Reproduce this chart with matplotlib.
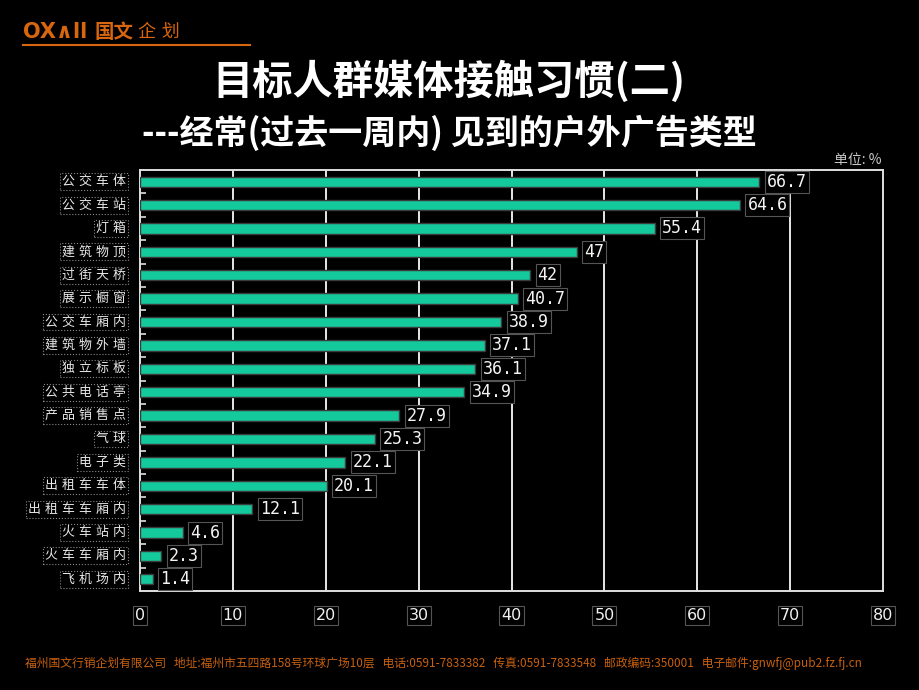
import matplotlib
matplotlib.use("Agg")
import matplotlib.pyplot as plt
import matplotlib.transforms as mtransforms

categories = ["公交车体", "公交车站", "灯箱", "建筑物顶", "过街天桥", "展示橱窗",
              "公交车厢内", "建筑物外墙", "独立标板", "公共电话亭", "产品销售点",
              "气球", "电子类", "出租车车体", "出租车车厢内", "火车站内",
              "火车车厢内", "飞机场内"]
values = [66.7, 64.6, 55.4, 47, 42, 40.7, 38.9, 37.1, 36.1, 34.9, 27.9,
          25.3, 22.1, 20.1, 12.1, 4.6, 2.3, 1.4]
value_labels = ["66.7", "64.6", "55.4", "47", "42", "40.7", "38.9", "37.1",
                "36.1", "34.9", "27.9", "25.3", "22.1", "20.1", "12.1",
                "4.6", "2.3", "1.4"]
xticks = [0, 10, 20, 30, 40, 50, 60, 70, 80]

CJK = ["Noto Sans CJK SC", "DejaVu Sans"]
CJK_SP = ["DejaVu Sans", "Noto Sans CJK SC"]
ORANGE = "#D8660E"
BAR = "#14C99B"

fig = plt.figure(figsize=(9.2, 6.9), dpi=100, facecolor="black")
W, H = 920, 690
x0, x1, y0, y1 = 140, 883, 170, 591
ax = fig.add_axes([x0 / W, 1 - y1 / H, (x1 - x0) / W, (y1 - y0) / H])
ax.set_facecolor("black")

n = len(categories)
ypos = list(range(n))
ax.barh(ypos, values, height=0.44, color=BAR, edgecolor="#3a3a3a", linewidth=1.0, zorder=3)
ax.set_ylim(n - 0.5, -0.5)
ax.set_xlim(0, 80)

for xv in xticks[1:-1]:
    ax.axvline(xv, color="#e8e8e8", lw=1.4, zorder=1)
for s in ax.spines.values():
    s.set_color("#e0e0e0")
    s.set_linewidth(1.4)

ax.set_yticks([])
ax.set_yticks([i + 0.5 for i in range(n - 1)], minor=True)
ax.tick_params(axis="y", which="minor", direction="in", length=4, color="#e0e0e0", width=1.2)
ax.set_xticks(xticks)
ax.set_xticklabels([str(v) for v in xticks])
ax.tick_params(axis="x", length=0, pad=12, labelsize=11.5, labelcolor="#f0f0f0")
for lab in ax.get_xticklabels():
    lab.set_bbox(dict(boxstyle="square,pad=0.12", fc="black", ec="#555555", lw=0.8))

trans = mtransforms.blended_transform_factory(ax.transAxes, ax.transData)
for i, (c, v, vl) in enumerate(zip(categories, values, value_labels)):
    ax.text(-0.019, i, " ".join(c), transform=trans, ha="right", va="center",
            fontsize=9.3, color="#e8e8e8", family=CJK_SP,
            bbox=dict(boxstyle="square,pad=0.15", fc="black", ec="#888888", lw=0.8, ls=":"))
    ax.text(v + 0.8, i, vl, ha="left", va="center", fontsize=12, color="#f4f4f4",
            family="DejaVu Sans Mono", zorder=4,
            bbox=dict(boxstyle="square,pad=0.12", fc="black", ec="#555555", lw=0.8))

# header logo
fig.text(23 / W, 1 - 32 / H, "OX∧ll", color=ORANGE, fontsize=15, fontweight="bold",
         family="DejaVu Sans", ha="left", va="center")
fig.text(94 / W, 1 - 32 / H, "国文", color=ORANGE, fontsize=14, fontweight="bold",
         family=CJK, ha="left", va="center")
fig.text(138 / W, 1 - 32 / H, "企 划", color=ORANGE, fontsize=13,
         family=CJK_SP, ha="left", va="center")
fig.add_artist(plt.Line2D([23 / W, 250 / W], [1 - 45 / H, 1 - 45 / H], color=ORANGE, lw=1.5))

# titles
fig.text(449 / W, 1 - 82 / H, "目标人群媒体接触习惯(二)", color="white", fontsize=29,
         fontweight="bold", family=CJK, ha="center", va="center")
fig.text(449 / W, 1 - 133 / H, "---经常(过去一周内) 见到的户外广告类型", color="white",
         fontsize=24.5, fontweight="bold", family=CJK, ha="center", va="center")
fig.text(882 / W, 1 - 160 / H, "单位: %", color="#c8c8c8", fontsize=10,
         family=CJK, ha="right", va="center")

footer = ("福州国文行销企划有限公司   地址:福州市五四路158号环球广场10层   电话:0591-7833382   "
          "传真:0591-7833548   邮政编码:350001   电子邮件:gnwfj@pub2.fz.fj.cn")
fig.text(25 / W, 1 - 663 / H, footer, color="#C8600E", fontsize=8.5, family=CJK,
         ha="left", va="center")

fig.savefig("out.png", dpi=100, facecolor="black")
